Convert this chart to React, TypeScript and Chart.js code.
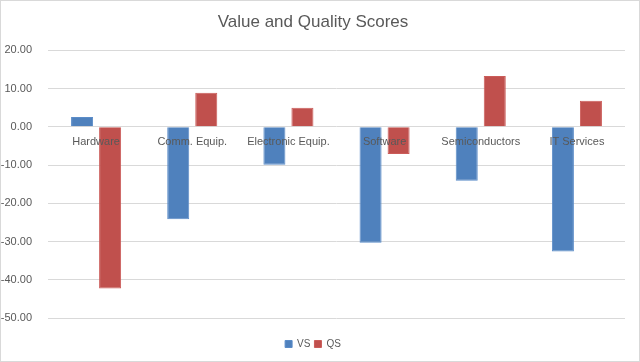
import React, { useEffect, useRef } from "react";
import { Chart, registerables } from "chart.js";

Chart.register(...registerables);

const categories = ["Hardware", "Comm. Equip.", "Electronic Equip.", "Software", "Semiconductors", "IT Services"];
const vsValues = [2.6, -24.2, -9.9, -30.3, -14.1, -32.6];
const qsValues = [-42.3, 8.9, 5.0, -7.1, 13.3, 6.8];
const seriesNames = ["VS", "QS"];
const titleText = "Value and Quality Scores";

const FONT = "'Liberation Sans', Arial, sans-serif";
const TEXT = "#595959";
const GRID = "#d9d9d9";

const zeroLabels = {
  id: "zeroLabels",
  afterDatasetsDraw(chart: any) {
    const { ctx, scales } = chart;
    const x = scales.x;
    const y = scales.y;
    const y0 = y.getPixelForValue(0);
    ctx.save();
    ctx.fillStyle = TEXT;
    ctx.font = `11px ${FONT}`;
    ctx.textAlign = "center";
    ctx.textBaseline = "middle";
    (chart.data.labels as string[]).forEach((lab, i) => {
      ctx.fillText(lab, x.getPixelForValue(i), y0 + 15);
    });
    ctx.restore();
  },
};

export default function App() {
  const ref = useRef<HTMLCanvasElement | null>(null);

  useEffect(() => {
    document.body.style.margin = "0";
    const canvas = ref.current;
    if (!canvas) return;
    const chart = new Chart(canvas, {
      type: "bar",
      data: {
        labels: categories,
        datasets: [
          {
            label: seriesNames[0],
            data: vsValues,
            backgroundColor: "#4F81BD",
            borderColor: "#5B8CC8",
            borderWidth: 1,
            categoryPercentage: 0.583,
            barPercentage: 0.786,
          },
          {
            label: seriesNames[1],
            data: qsValues,
            backgroundColor: "#C0504D",
            borderColor: "#CB5C59",
            borderWidth: 1,
            categoryPercentage: 0.583,
            barPercentage: 0.786,
          },
        ],
      },
      options: {
        animation: false,
        responsive: true,
        maintainAspectRatio: false,
        layout: { padding: { left: 0, right: 14, top: 0, bottom: 2 } },
        plugins: {
          title: {
            display: true,
            text: titleText,
            color: TEXT,
            font: { family: FONT, size: 17, weight: "normal" },
            padding: { top: 11, bottom: 18 },
          },
          legend: {
            position: "bottom",
            labels: {
              color: TEXT,
              font: { family: FONT, size: 10 },
              boxWidth: 7,
              boxHeight: 7,
              padding: 4,
            },
          },
          tooltip: { enabled: false },
        },
        scales: {
          x: {
            grid: { display: false },
            border: { display: false },
            ticks: { display: false },
            afterFit: (s: any) => {
              s.height = 17;
            },
          },
          y: {
            min: -50,
            max: 20,
            grid: { color: GRID, drawTicks: false },
            border: { display: false },
            ticks: {
              stepSize: 10,
              color: TEXT,
              font: { family: FONT, size: 11 },
              padding: 16,
              callback: (v: any) => Number(v).toFixed(2),
            },
            afterFit: (s: any) => {
              s.width = 47;
            },
          },
        },
      },
      plugins: [zeroLabels],
    });
    return () => chart.destroy();
  }, []);

  return (
    <div
      style={{
        width: 640,
        height: 362,
        boxSizing: "border-box",
        border: "1px solid #d9d9d9",
        position: "relative",
        background: "#fff",
      }}
    >
      <canvas ref={ref} />
    </div>
  );
}
